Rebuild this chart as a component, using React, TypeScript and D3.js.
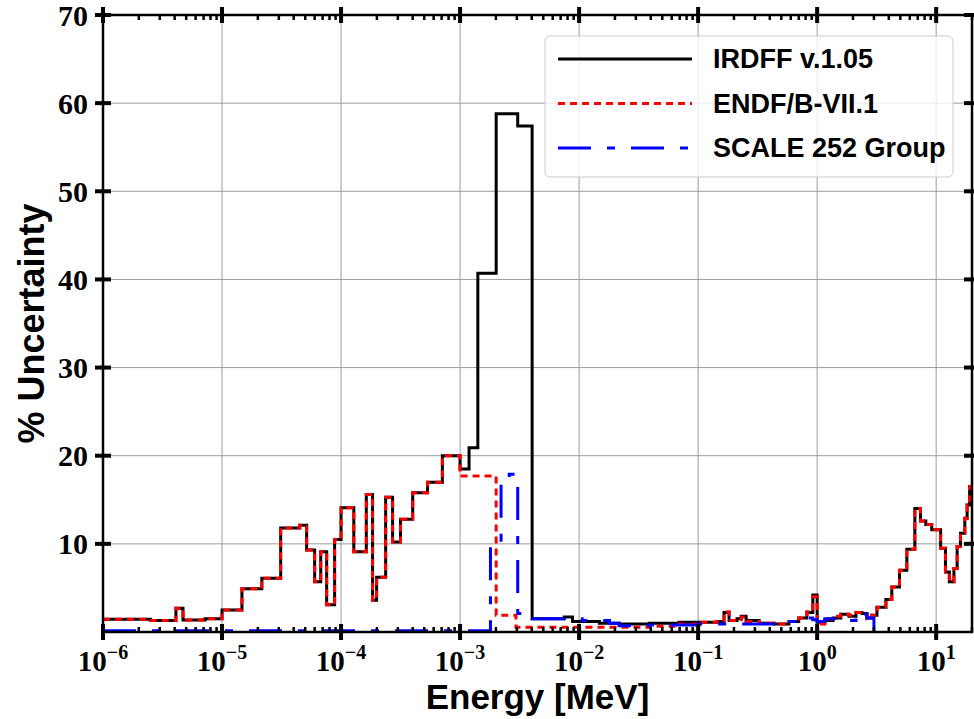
import React, { useEffect, useRef } from 'react';
import * as d3 from 'd3';

// group lower edges [MeV] and % uncertainty
const irdffEnergy = [
  1e-6, 2.5e-6, 4.1e-6, 4.7e-6, 7.2e-6, 1e-5, 1.47e-5, 2.16e-5, 3.11e-5, 4.5e-5,
  5.14e-5, 6.0e-5, 6.75e-5, 7.57e-5, 8.83e-5, 1e-4, 1.28e-4, 1.63e-4, 1.84e-4, 1.99e-4,
  2.37e-4, 2.71e-4, 3.16e-4, 4.0e-4, 5.33e-4, 7.1e-4, 1e-3, 1.19e-3, 1.41e-3, 2.01e-3,
  3.05e-3, 4.03e-3, 7.5e-3, 8.8e-3, 1.48e-2, 2.17e-2, 3.88e-2, 6.9e-2, 1.44e-1, 1.65e-1,
  1.82e-1, 2.12e-1, 2.3e-1, 2.53e-1, 3.25e-1, 4.34e-1, 5.8e-1, 7.0e-1, 8.2e-1, 9.2e-1,
  1.0, 1.16, 1.36, 1.58, 1.85, 2.12, 2.38, 2.62, 2.88, 3.18,
  3.78, 4.24, 4.92, 5.67, 6.62, 7.38, 8.18, 9.18, 10.9, 11.97,
  12.9, 14.1, 15.0, 16.0, 17.4, 18.2, 19.1
];
const irdffUnc = [
  1.45, 1.3, 2.7, 1.35, 1.5, 2.5, 4.9, 6.1, 11.8, 12.1,
  9.3, 5.7, 9.1, 3.1, 10.5, 14.1, 9.1, 15.6, 3.6, 6.2,
  15.3, 10.2, 12.8, 15.8, 17.0, 20.0, 18.5, 20.9, 40.7, 58.8,
  57.4, 1.5, 1.7, 1.2, 1.0, 0.9, 1.0, 1.1, 1.2, 2.2,
  1.3, 1.5, 1.8, 1.3, 1.0, 0.9, 1.2, 1.6, 2.2, 4.2,
  1.1, 1.3, 1.6, 2.0, 1.8, 2.2, 2.1, 1.6, 1.9, 2.8,
  3.7, 5.1, 7.0, 9.4, 14.0, 12.6, 12.2, 11.6, 9.5, 6.8,
  5.7, 7.2, 9.7, 11.2, 12.9, 14.4, 16.5
];
const irdffEnd = 20;

const endfEnergy = [
  1e-6, 2.5e-6, 4.1e-6, 4.7e-6, 7.2e-6, 1e-5, 1.47e-5, 2.16e-5, 3.11e-5, 4.5e-5,
  5.14e-5, 6.0e-5, 6.75e-5, 7.57e-5, 8.83e-5, 1e-4, 1.28e-4, 1.63e-4, 1.84e-4, 1.99e-4,
  2.37e-4, 2.71e-4, 3.16e-4, 4.0e-4, 5.33e-4, 7.1e-4, 1e-3, 2.01e-3, 2.95e-3, 3.88e-2,
  6.9e-2, 1.02e-1, 1.44e-1, 1.65e-1, 1.82e-1, 2.12e-1, 2.3e-1, 2.53e-1, 3.25e-1, 4.34e-1,
  5.8e-1, 7.0e-1, 8.2e-1, 9.2e-1, 1.0, 1.16, 1.36, 1.58, 1.85, 2.12,
  2.38, 2.62, 2.88, 3.18, 3.78, 4.24, 4.92, 5.67, 6.62, 7.38,
  8.18, 9.18, 10.9, 11.97, 12.9, 14.1, 15.0, 16.0, 17.4, 18.2,
  19.1
];
const endfUnc = [
  1.45, 1.3, 2.7, 1.35, 1.5, 2.5, 4.9, 6.1, 11.8, 12.1,
  9.3, 5.7, 9.1, 3.1, 10.5, 14.1, 9.1, 15.6, 3.6, 6.2,
  15.3, 10.2, 12.8, 15.8, 17.0, 20.0, 17.7, 1.9, 0.55, 0.65,
  0.9, 1.1, 1.2, 2.3, 1.3, 1.4, 1.7, 1.2, 1.0, 0.9,
  1.2, 1.6, 2.3, 4.0, 0.9, 1.5, 1.8, 2.0, 1.9, 2.2,
  2.0, 1.5, 1.9, 2.8, 3.7, 5.1, 7.0, 9.4, 14.0, 12.6,
  12.2, 11.6, 9.5, 6.8, 5.7, 7.2, 9.7, 11.2, 12.9, 14.4,
  16.5
];
const endfEnd = 20;

const scaleEnergy = [
  1e-6, 1.8e-3, 2.21e-3, 2.59e-3, 3.05e-3, 4.03e-3, 1.06e-2, 1.8e-2, 2.17e-2, 3.88e-2,
  1.02e-1, 5.25e-1, 8.2e-1, 9.2e-1, 1.0, 1.16, 1.58, 1.85, 2.12, 2.38,
  2.62, 3.0
];
const scaleUnc = [
  0.15, 9.7, 16.9, 17.9, 2.1, 1.5, 1.3, 1.0, 0.7, 0.8,
  0.9, 1.2, 1.6, 1.4, 1.2, 1.5, 1.4, 1.3, 2.2, 2.0,
  1.6, 0
];
const scaleEnd = 3.0;

const seriesNames = ['IRDFF v.1.05', 'ENDF/B-VII.1', 'SCALE 252 Group'];
const yTicks = [10, 20, 30, 40, 50, 60, 70];
const xDecades = [-6, -5, -4, -3, -2, -1, 0, 1];

const W = 974;
const H = 719;
const margin = { top: 15, right: 2, bottom: 87, left: 103 };

function stepPoints(energy: number[], unc: number[], end: number): [number, number][] {
  const pts: [number, number][] = energy.map((e, i) => [e, unc[i]]);
  pts.push([end, unc[unc.length - 1]]);
  return pts;
}

export default function App() {
  const svgRef = useRef<SVGSVGElement>(null);

  useEffect(() => {
    const svg = d3.select(svgRef.current);
    svg.selectAll('*').remove();

    const x0 = margin.left;
    const x1 = W - margin.right;
    const y0 = H - margin.bottom;
    const y1 = margin.top;

    const x = d3.scaleLog().domain([1e-6, 20]).range([x0, x1]);
    const y = d3.scaleLinear().domain([0, 70]).range([y0, y1]);

    svg.append('rect').attr('width', W).attr('height', H).attr('fill', '#fff');

    svg.append('clipPath').attr('id', 'plotclip')
      .append('rect')
      .attr('x', x0).attr('y', y1 - 5)
      .attr('width', x1 - x0).attr('height', y0 - y1 + 5);

    // grid
    const grid = svg.append('g').attr('stroke', '#9c9c9c').attr('stroke-width', 1);
    xDecades.forEach(d => {
      const px = x(Math.pow(10, d));
      grid.append('line').attr('x1', px).attr('x2', px).attr('y1', y1).attr('y2', y0);
    });
    yTicks.forEach(t => {
      grid.append('line').attr('x1', x0).attr('x2', x1).attr('y1', y(t)).attr('y2', y(t));
    });

    // step lines
    const line = d3.line<[number, number]>()
      .x(d => x(d[0]))
      .y(d => y(d[1]))
      .curve(d3.curveStepAfter);

    const plot = svg.append('g').attr('clip-path', 'url(#plotclip)').attr('fill', 'none');

    plot.append('path')
      .attr('d', line(stepPoints(irdffEnergy, irdffUnc, irdffEnd)))
      .attr('stroke', '#000')
      .attr('stroke-width', 3);

    plot.append('path')
      .attr('d', line(stepPoints(endfEnergy, endfUnc, endfEnd)))
      .attr('stroke', '#ff0000')
      .attr('stroke-width', 3)
      .attr('stroke-dasharray', '7,5');

    plot.append('path')
      .attr('d', line(stepPoints(scaleEnergy, scaleUnc, scaleEnd)))
      .attr('stroke', '#0000ff')
      .attr('stroke-width', 3)
      .attr('stroke-dasharray', '33,16,8,16');

    // frame
    svg.append('rect')
      .attr('x', x0).attr('y', y1)
      .attr('width', x1 - x0).attr('height', y0 - y1)
      .attr('fill', 'none')
      .attr('stroke', '#000')
      .attr('stroke-width', 2.5);

    const ticks = svg.append('g').attr('stroke', '#000');

    // major x ticks (in and out), top and bottom
    xDecades.forEach(d => {
      const px = x(Math.pow(10, d));
      ticks.append('line').attr('x1', px).attr('x2', px).attr('y1', y0 - 8).attr('y2', y0 + 8).attr('stroke-width', 4);
      ticks.append('line').attr('x1', px).attr('x2', px).attr('y1', y1 - 8).attr('y2', y1 + 8).attr('stroke-width', 4);
    });
    // minor x ticks, inside only
    xDecades.forEach(d => {
      for (let k = 2; k <= 9; k++) {
        const v = k * Math.pow(10, d);
        if (v > 20) continue;
        const px = x(v);
        ticks.append('line').attr('x1', px).attr('x2', px).attr('y1', y0).attr('y2', y0 - 5).attr('stroke-width', 2.5);
        ticks.append('line').attr('x1', px).attr('x2', px).attr('y1', y1).attr('y2', y1 + 5).attr('stroke-width', 2.5);
      }
    });
    // major y ticks, left and right
    yTicks.forEach(t => {
      ticks.append('line').attr('x1', x0 - 8).attr('x2', x0 + 8).attr('y1', y(t)).attr('y2', y(t)).attr('stroke-width', 4);
      ticks.append('line').attr('x1', x1 - 8).attr('x2', x1 + 8).attr('y1', y(t)).attr('y2', y(t)).attr('stroke-width', 4);
    });

    const serif = '"Liberation Serif", "DejaVu Serif", serif';
    const sans = '"Liberation Sans", Arial, sans-serif';

    // y tick labels
    yTicks.forEach(t => {
      svg.append('text')
        .attr('x', x0 - 15)
        .attr('y', y(t))
        .attr('dy', '0.35em')
        .attr('text-anchor', 'end')
        .attr('font-family', serif)
        .attr('font-weight', 'bold')
        .attr('font-size', 30)
        .text(t);
    });

    // x tick labels 10^n
    xDecades.forEach(d => {
      const tx = svg.append('text')
        .attr('x', x(Math.pow(10, d)))
        .attr('y', y0 + 39)
        .attr('text-anchor', 'middle')
        .attr('font-family', serif)
        .attr('font-weight', 'bold')
        .attr('font-size', 29);
      tx.append('tspan').text('10');
      tx.append('tspan')
        .attr('dy', -12)
        .attr('font-size', 20)
        .text(d < 0 ? `\u2212${-d}` : `${d}`);
    });

    // axis titles
    svg.append('text')
      .attr('x', (x0 + x1) / 2)
      .attr('y', 709)
      .attr('text-anchor', 'middle')
      .attr('font-family', sans)
      .attr('font-weight', 'bold')
      .attr('font-size', 35)
      .text('Energy [MeV]');

    svg.append('text')
      .attr('transform', `translate(44, ${(y0 + y1) / 2}) rotate(-90)`)
      .attr('text-anchor', 'middle')
      .attr('font-family', sans)
      .attr('font-weight', 'bold')
      .attr('font-size', 36)
      .text('% Uncertainty');

    // legend
    const legend = svg.append('g');
    legend.append('rect')
      .attr('x', 545).attr('y', 36)
      .attr('width', 408).attr('height', 141)
      .attr('rx', 5)
      .attr('fill', '#fff')
      .attr('fill-opacity', 0.8)
      .attr('stroke', '#cccccc')
      .attr('stroke-width', 1);

    const styles = [
      { color: '#000', dash: null },
      { color: '#ff0000', dash: '7,5' },
      { color: '#0000ff', dash: '33,16,8,16' }
    ];
    seriesNames.forEach((name, i) => {
      const ly = 59 + i * 44.5;
      legend.append('line')
        .attr('x1', 558).attr('x2', 692)
        .attr('y1', ly).attr('y2', ly)
        .attr('stroke', styles[i].color)
        .attr('stroke-width', 3)
        .attr('stroke-dasharray', styles[i].dash);
      legend.append('text')
        .attr('x', 713)
        .attr('y', ly)
        .attr('dy', '0.35em')
        .attr('font-family', sans)
        .attr('font-weight', 'bold')
        .attr('font-size', 27)
        .text(name);
    });
  }, []);

  return (
    <div style={{ position: 'absolute', left: 0, top: 0, width: W, height: H, overflow: 'hidden' }}>
      <svg ref={svgRef} width={W} height={H}></svg>
    </div>
  );
}
